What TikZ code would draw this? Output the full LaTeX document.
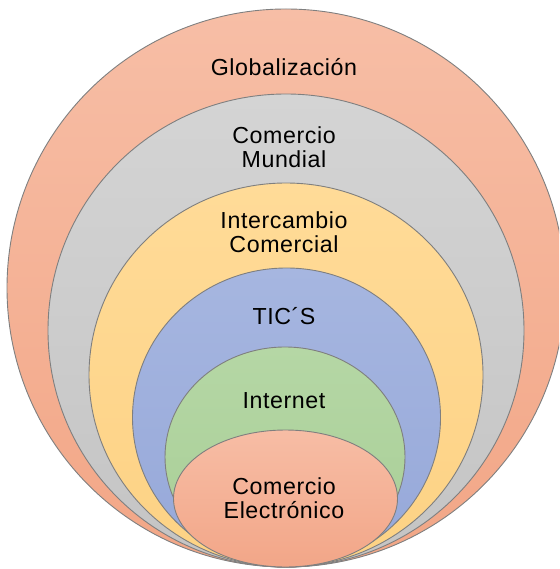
\documentclass[tikz,border=0pt]{standalone}
\usepackage{fontspec}
\setmainfont[LetterSpace=2.5]{Liberation Sans}
\usetikzlibrary{shapes.geometric}
\definecolor{edge}{HTML}{7F7F7F}
\tikzset{
  ring/.style={ellipse, draw=edge, line width=0.9pt, inner sep=0pt, outer sep=0pt},
  lbl/.style={font=\fontsize{23.2}{24}\selectfont, align=center, text=black, inner sep=0pt},
}
\begin{document}
\begin{tikzpicture}[x=1pt,y=-1pt]
\useasboundingbox (0,0) rectangle (559,569);
\clip (0,0) rectangle (559,569);
\node[ring, minimum width=558pt, minimum height=558pt, top color={rgb,255:red,247;green,190;blue,166}, bottom color={rgb,255:red,242;green,166;blue,134}] (glob) at (286,288) {};
\node[ring, minimum width=476pt, minimum height=473pt, top color={rgb,255:red,212;green,212;blue,212}, bottom color={rgb,255:red,196;green,196;blue,196}] (mund) at (286,330.5) {};
\node[ring, minimum width=394pt, minimum height=384pt, top color={rgb,255:red,255;green,219;blue,152}, bottom color={rgb,255:red,253;green,210;blue,132}] (inter) at (286,375) {};
\node[ring, minimum width=308pt, minimum height=299pt, top color={rgb,255:red,166;green,182;blue,224}, bottom color={rgb,255:red,150;green,168;blue,217}] (tics) at (286.5,417.5) {};
\node[ring, minimum width=240pt, minimum height=220pt, top color={rgb,255:red,181;green,215;blue,165}, bottom color={rgb,255:red,168;green,206;blue,150}] (net) at (285,457) {};
\node[ring, minimum width=224pt, minimum height=137pt, top color={rgb,255:red,247;green,189;blue,165}, bottom color={rgb,255:red,242;green,166;blue,136}] (elec) at (285.5,498.5) {};
\node[lbl] (tglob) at (284,67) {Globalización};
\node[lbl] (tmund) at (284,147) {Comercio\\Mundial};
\node[lbl] (tinter) at (284,232) {Intercambio\\Comercial};
\node[lbl] (ttics) at (284,316) {TIC´S};
\node[lbl] (tnet) at (284,401) {Internet};
\node[lbl] (telec) at (284,498) {Comercio\\Electrónico};
\end{tikzpicture}
\end{document}
